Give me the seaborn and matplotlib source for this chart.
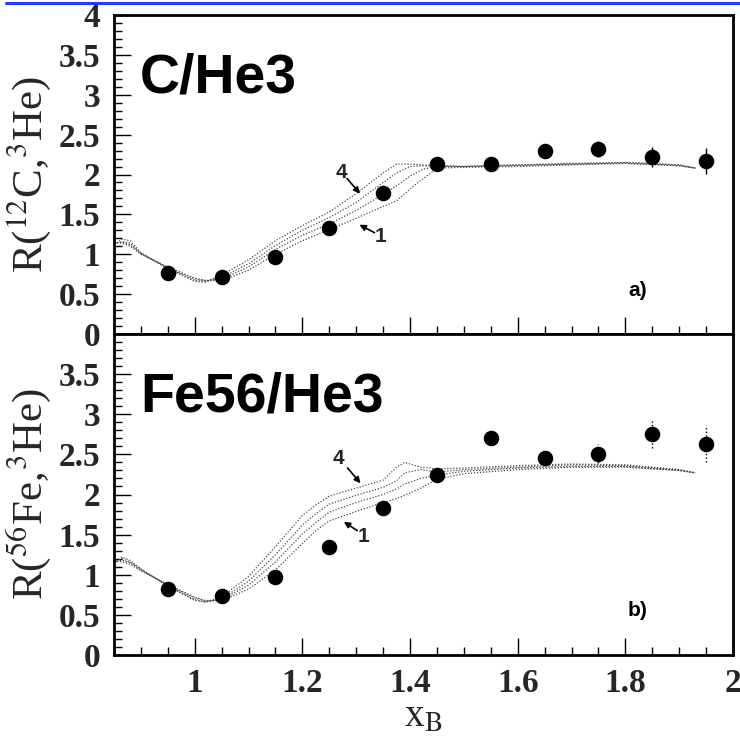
import numpy as np
import pandas as pd
import matplotlib
matplotlib.use("Agg")
import matplotlib.pyplot as plt
from matplotlib.lines import Line2D
from matplotlib.ticker import MultipleLocator, FuncFormatter
import seaborn as sns

# ---- measured ratios (data points) ----
x_b = [0.95, 1.05, 1.15, 1.25, 1.35, 1.45, 1.55, 1.65, 1.75, 1.85, 1.95]

r_c = [0.76, 0.72, 0.96, 1.33, 1.77, 2.13, 2.13, 2.29, 2.32, 2.22, 2.17]
r_c_err = [0.02, 0.02, 0.02, 0.02, 0.03, 0.03, 0.03, 0.05, 0.10, 0.12, 0.16]

r_fe = [0.82, 0.74, 0.97, 1.35, 1.83, 2.24, 2.71, 2.46, 2.51, 2.76, 2.63]
r_fe_err = [0.02, 0.02, 0.02, 0.02, 0.03, 0.04, 0.05, 0.08, 0.12, 0.18, 0.23]

# ---- model curves 1..4, panel a (12C / 3He) ----
xa = [0.85, 0.865, 0.88, 0.9, 0.95, 1.0, 1.02, 1.05, 1.1, 1.15, 1.2, 1.25,
      1.3, 1.35, 1.375, 1.4, 1.425, 1.45, 1.5, 1.6, 1.7, 1.8, 1.9, 1.93]
ca1 = [1.15, 1.14, 1.10, 1.00, 0.84, 0.70, 0.67, 0.67, 0.80, 1.00, 1.17, 1.31,
       1.45, 1.60, 1.67, 1.82, 1.95, 2.08, 2.09, 2.10, 2.12, 2.14, 2.11, 2.08]
ca2 = [1.14, 1.15, 1.12, 1.01, 0.83, 0.69, 0.67, 0.69, 0.84, 1.06, 1.24, 1.38,
       1.55, 1.75, 1.86, 1.98, 2.07, 2.10, 2.10, 2.11, 2.13, 2.14, 2.11, 2.08]
ca3 = [1.13, 1.16, 1.14, 1.01, 0.82, 0.67, 0.66, 0.71, 0.88, 1.11, 1.30, 1.46,
       1.65, 1.90, 2.02, 2.10, 2.11, 2.11, 2.10, 2.12, 2.13, 2.15, 2.12, 2.08]
ca4 = [1.12, 1.19, 1.17, 1.02, 0.82, 0.66, 0.65, 0.74, 0.93, 1.17, 1.36, 1.53,
       1.76, 2.02, 2.13, 2.13, 2.12, 2.11, 2.10, 2.12, 2.14, 2.15, 2.12, 2.08]

# ---- model curves 1..4, panel b (56Fe / 3He) ----
xb = [0.85, 0.865, 0.88, 0.9, 0.95, 1.0, 1.02, 1.05, 1.1, 1.15, 1.2, 1.225,
      1.25, 1.3, 1.35, 1.375, 1.39, 1.42, 1.45, 1.5, 1.6, 1.7, 1.8, 1.9, 1.93]
cb1 = [1.17, 1.16, 1.13, 1.05, 0.88, 0.72, 0.68, 0.68, 0.82, 1.06, 1.39, 1.55,
       1.67, 1.79, 1.90, 1.95, 1.99, 2.08, 2.19, 2.26, 2.31, 2.34, 2.34, 2.30, 2.27]
cb2 = [1.16, 1.18, 1.15, 1.06, 0.87, 0.71, 0.67, 0.69, 0.87, 1.16, 1.51, 1.65,
       1.78, 1.90, 2.00, 2.07, 2.13, 2.20, 2.24, 2.29, 2.33, 2.35, 2.35, 2.30, 2.27]
cb3 = [1.15, 1.20, 1.16, 1.07, 0.86, 0.69, 0.66, 0.70, 0.92, 1.25, 1.62, 1.76,
       1.88, 1.99, 2.09, 2.17, 2.27, 2.31, 2.28, 2.31, 2.34, 2.37, 2.36, 2.31, 2.27]
cb4 = [1.14, 1.22, 1.18, 1.07, 0.86, 0.68, 0.66, 0.72, 0.98, 1.35, 1.74, 1.87,
       1.98, 2.08, 2.18, 2.34, 2.40, 2.34, 2.32, 2.33, 2.36, 2.38, 2.37, 2.31, 2.27]

panels = [
    dict(curves_x=xa, curves=[ca1, ca2, ca3, ca4], y=r_c, err=r_c_err,
         ylabel=r"R($^{12}$C,$^{3}$He)", title="C/He3", tag="a)",
         lab4=(1.272, 2.03), arr4=((1.283, 1.95), (1.307, 1.76)),
         lab1=(1.345, 1.22), arr1=((1.334, 1.27), (1.306, 1.37)),
         err_ls="-"),
    dict(curves_x=xb, curves=[cb1, cb2, cb3, cb4], y=r_fe, err=r_fe_err,
         ylabel=r"R($^{56}$Fe,$^{3}$He)", title="Fe56/He3", tag="b)",
         lab4=(1.267, 2.45), arr4=((1.284, 2.33), (1.308, 2.14)),
         lab1=(1.314, 1.48), arr1=((1.302, 1.55), (1.277, 1.66)),
         err_ls=":"),
]

sns.set_theme(style="ticks")
plt.rcParams["font.family"] = ["Liberation Serif", "DejaVu Serif"]
plt.rcParams["mathtext.fontset"] = "stix"

fig = plt.figure(figsize=(7.40, 7.38), dpi=100)
left, right = 114 / 740, 733 / 740
tops = [1 - 15 / 738, 1 - 334 / 738]
bottoms = [1 - 334 / 738, 1 - 655 / 738]

sans_bold = dict(family="Liberation Sans", weight="bold")

for i, p in enumerate(panels):
    ax = fig.add_axes([left, bottoms[i], right - left, tops[i] - bottoms[i]])

    for cy in p["curves"]:
        sns.lineplot(x=p["curves_x"], y=cy, ax=ax, color="#4a4a4a",
                     linewidth=0.9, linestyle=(0, (1.0, 1.4)),
                     estimator=None, sort=False, legend=False)

    err_art = ax.errorbar(x_b, p["y"], yerr=p["err"], fmt="none",
                          ecolor="black", elinewidth=1.0, capsize=0, zorder=3)
    for coll in err_art[2]:
        coll.set_linestyle(p["err_ls"])

    df = pd.DataFrame({"x": x_b, "r": p["y"]})
    sns.scatterplot(data=df, x="x", y="r", ax=ax, color="black", s=125,
                    edgecolor="black", linewidth=0, zorder=4)

    ax.set_xlim(0.85, 2.0)
    ax.set_ylim(0, 4)

    ax.text(0.898, 3.03, p["title"], fontsize=40, color="black", **sans_bold)
    ax.text(1.805, 0.48, p["tag"], fontsize=15, color="black", **sans_bold)

    ax.text(*p["lab4"], "4", fontsize=15, ha="center", va="center", **sans_bold)
    ax.text(*p["lab1"], "1", fontsize=15, ha="center", va="center", **sans_bold)
    for tail, head in (p["arr4"], p["arr1"]):
        ax.annotate("", xy=head, xytext=tail,
                    arrowprops=dict(arrowstyle="-|>", color="black", lw=1.2,
                                    mutation_scale=9, shrinkA=0, shrinkB=0))

    # axes styling
    for side in ("top", "right", "left", "bottom"):
        ax.spines[side].set_visible(True)
        ax.spines[side].set_linewidth(2.0)
        ax.spines[side].set_color("black")

    ax.xaxis.set_major_locator(MultipleLocator(0.2))
    ax.xaxis.set_minor_locator(MultipleLocator(0.05))
    ax.yaxis.set_major_locator(MultipleLocator(0.5))
    ax.yaxis.set_minor_locator(MultipleLocator(0.1))
    ax.tick_params(axis="both", which="major", direction="in", length=12,
                   width=1.0, color="black", top=False, right=False)
    ax.tick_params(axis="both", which="minor", direction="in", length=6,
                   width=1.0, color="black", top=False, right=False)
    ax.tick_params(axis="y", which="major", pad=10)
    ax.tick_params(axis="x", which="major", pad=9)

    fmt = FuncFormatter(lambda v, pos: f"{v:g}")
    ax.yaxis.set_major_formatter(fmt)
    ax.xaxis.set_major_formatter(fmt)
    if i == 1:
        ax.yaxis.set_major_formatter(
            FuncFormatter(lambda v, pos: "" if v > 3.9 else f"{v:g}"))
    for lab in ax.get_yticklabels() + ax.get_xticklabels():
        lab.set_fontweight("bold")
        lab.set_fontsize(24)
        lab.set_family("Liberation Serif")

    if i == 0:
        ax.tick_params(axis="x", labelbottom=False)
    else:
        ax.set_xlabel(r"x$_{\mathrm{B}}$", fontsize=28, labelpad=0)

    ax.set_ylabel(p["ylabel"], fontsize=31, labelpad=4)
    ax.set_facecolor("white")

# link underline along the top edge
fig.add_artist(Line2D([6 / 740, 1.0], [1 - 3 / 738, 1 - 3 / 738],
                      transform=fig.transFigure, color="#1f3cff", lw=2.2))

fig.savefig("out.png", dpi=100, facecolor="white")
